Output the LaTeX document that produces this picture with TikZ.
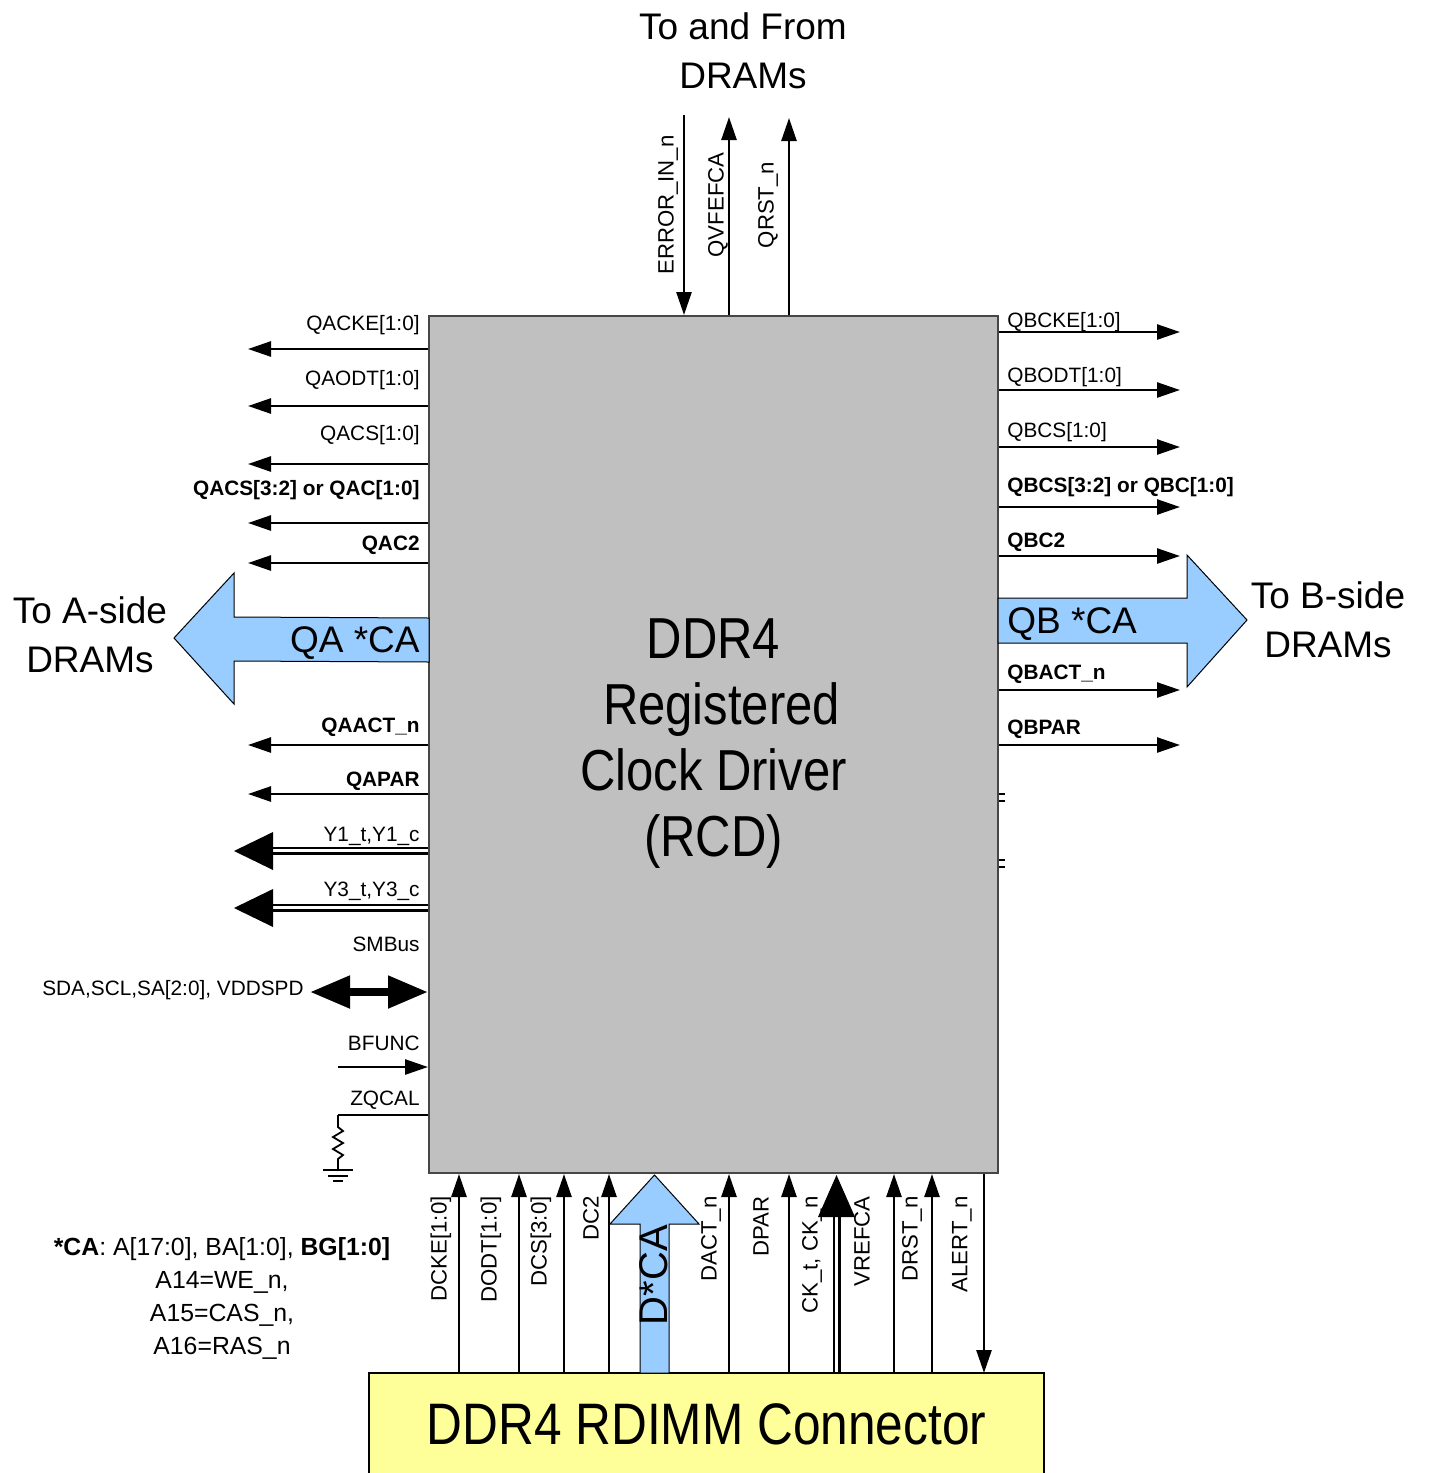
\documentclass[tikz,border=0pt]{standalone}
\usepackage{fontspec}
\usepackage{graphicx}
\setmainfont{Liberation Sans}
\usetikzlibrary{arrows.meta,positioning}
\definecolor{rcdgray}{RGB}{192,192,192}
\definecolor{rcdedge}{RGB}{70,70,70}
\definecolor{cablue}{RGB}{153,204,255}
\definecolor{dimmyellow}{RGB}{255,255,153}
\newcommand{\tallsz}[1]{\scalebox{1}[1.18]{#1}}

\begin{document}
\begin{tikzpicture}[
    x=0.5pt, y=-0.5pt,
    sig/.style={line width=1.3pt, -{Triangle[length=11.5pt,width=7.5pt]}},
    plain/.style={line width=1.3pt},
    sigtxt/.style={font=\fontsize{10.4}{12}\selectfont, inner sep=0pt},
    sigbold/.style={font=\fontsize{10.4}{12}\selectfont\bfseries, inner sep=0pt},
    vtxt/.style={font=\fontsize{11.1}{13}\selectfont, inner sep=0pt, rotate=90},
    bigarrow/.style={fill=cablue, draw=black, line width=0.5pt},
    bigtxt/.style={font=\fontsize{18.5}{24.5}\selectfont, align=center, inner sep=0pt}
]
    \useasboundingbox (0,0) rectangle (1429,1473);

    \node[fill=rcdgray, draw=rcdedge, line width=1pt, minimum width=284.5pt, minimum height=428.5pt, inner sep=0pt] (rcd) at (713.5,744.5)
        {\fontsize{24.5}{28}\selectfont\tallsz{\begin{tabular}{@{}c@{}}DDR4\\\hspace*{8pt}Registered\\Clock Driver\\(RCD)\end{tabular}}};
    \node[fill=dimmyellow, draw=black, line width=0.8pt, minimum width=337.5pt, minimum height=51pt, inner sep=0pt] (dimm) at (706.5,1424)
        {\fontsize{24.8}{28}\selectfont\tallsz{DDR4 RDIMM Connector}};

    % top
    \node[bigtxt] (todram) at (743,51) {To and From\\DRAMs};
    \coordinate (errin) at (684,115);
    \coordinate (qvref) at (729,117);
    \coordinate (qrst) at (789,118);
    \draw[sig] (errin) -- (errin |- rcd.north);
    \draw[sig] (qvref |- rcd.north) -- (qvref);
    \draw[sig] (qrst |- rcd.north) -- (qrst);
    \node[vtxt] (lerrin) at (668,205) {ERROR\_IN\_n};
    \node[vtxt] (lqvref) at (718,205) {QVFEFCA};
    \node[vtxt] (lqrst) at (768,205) {QRST\_n};

    % A side
    \node[bigtxt] (toa) at (90,635) {To A-side\\DRAMs};
    \coordinate (qacke) at (248,349);
    \coordinate (qaodt) at (248,406);
    \coordinate (qacs) at (248,464);
    \coordinate (qacsh) at (248,523);
    \coordinate (qac2) at (248,563);
    \coordinate (qaact) at (248,745);
    \coordinate (qapar) at (248,794);
    \draw[sig] (rcd.west |- qacke) -- (qacke);
    \draw[sig] (rcd.west |- qaodt) -- (qaodt);
    \draw[sig] (rcd.west |- qacs) -- (qacs);
    \draw[sig] (rcd.west |- qacsh) -- (qacsh);
    \draw[sig] (rcd.west |- qac2) -- (qac2);
    \draw[sig] (rcd.west |- qaact) -- (qaact);
    \draw[sig] (rcd.west |- qapar) -- (qapar);
    \node[sigtxt, anchor=base east] at (420,330) {QACKE[1:0]};
    \node[sigtxt, anchor=base east] at (420,385) {QAODT[1:0]};
    \node[sigtxt, anchor=base east] at (420,440) {QACS[1:0]};
    \node[sigbold, anchor=base east] at (420,495) {QACS[3:2] or QAC[1:0]};
    \node[sigbold, anchor=base east] at (420,550) {QAC2};
    \node[sigbold, anchor=base east] at (420,732) {QAACT\_n};
    \node[sigbold, anchor=base east] at (420,786) {QAPAR};
    \draw[bigarrow] (429,618) -- (234,617) -- (234,573) -- (174,638) -- (234,704) -- (234,661) -- (429,662) -- cycle;
    \node[bigtxt, anchor=base east] (qaca) at (420,652) {QA *CA};

    \coordinate (y1tip) at (234,851);
    \coordinate (y3tip) at (234,908);
    \draw[plain] (rcd.west |- 0,848) -- (273,848);
    \draw[plain] (rcd.west |- 0,853.5) -- (273,853.5);
    \fill (y1tip) -- ++(39,-19) -- ++(0,38) -- cycle;
    \draw[plain] (rcd.west |- 0,905) -- (273,905);
    \draw[plain] (rcd.west |- 0,910.5) -- (273,910.5);
    \fill (y3tip) -- ++(39,-19) -- ++(0,38) -- cycle;
    \node[sigtxt, anchor=base east] at (420,841) {Y1\_t,Y1\_c};
    \node[sigtxt, anchor=base east] at (420,896) {Y3\_t,Y3\_c};

    \node[sigtxt, anchor=base east] at (420,951) {SMBus};
    \node[sigtxt, anchor=base east] (lsda) at (304,995) {SDA,SCL,SA[2:0], VDDSPD};
    \coordinate (smb) at (310,992);
    \draw[line width=4pt, {Triangle[length=20pt,width=15.5pt]}-{Triangle[length=20pt,width=15.5pt]}] (smb) -- (rcd.west |- smb);

    \coordinate (bfunc) at (338,1067);
    \draw[sig] (bfunc) -- (rcd.west |- bfunc);
    \node[sigtxt, anchor=base east] at (420,1050) {BFUNC};

    \coordinate (zq) at (338,1115);
    \draw[plain] (rcd.west |- zq) -- (zq);
    \draw[line width=0.9pt] (zq) -- (338,1127) -- (343,1131) -- (333,1137) -- (343,1143) -- (333,1149) -- (343,1155) -- (338,1159) -- (338,1170);
    \draw[line width=0.6pt] (323,1170) -- (353,1170) (328,1176) -- (348,1176) (333,1181) -- (343,1181);
    \node[sigtxt, anchor=base east] at (420,1105) {ZQCAL};

    % B side
    \node[bigtxt] (tob) at (1328,620) {To B-side\\DRAMs};
    \coordinate (qbcke) at (1180,332);
    \coordinate (qbodt) at (1180,390);
    \coordinate (qbcs) at (1180,447);
    \coordinate (qbcsh) at (1180,507);
    \coordinate (qbc2) at (1180,556);
    \coordinate (qbact) at (1180,690);
    \coordinate (qbpar) at (1180,745);
    \draw[sig] (rcd.east |- qbcke) -- (qbcke);
    \draw[sig] (rcd.east |- qbodt) -- (qbodt);
    \draw[sig] (rcd.east |- qbcs) -- (qbcs);
    \draw[sig] (rcd.east |- qbcsh) -- (qbcsh);
    \draw[sig] (rcd.east |- qbc2) -- (qbc2);
    \draw[sig] (rcd.east |- qbact) -- (qbact);
    \draw[sig] (rcd.east |- qbpar) -- (qbpar);
    \node[sigtxt, anchor=base west] at (1007,327) {QBCKE[1:0]};
    \node[sigtxt, anchor=base west] at (1007,382) {QBODT[1:0]};
    \node[sigtxt, anchor=base west] at (1007,437) {QBCS[1:0]};
    \node[sigbold, anchor=base west] at (1007,492) {QBCS[3:2] or QBC[1:0]};
    \node[sigbold, anchor=base west] at (1007,547) {QBC2};
    \node[sigbold, anchor=base west] at (1007,679) {QBACT\_n};
    \node[sigbold, anchor=base west] at (1007,734) {QBPAR};
    \draw[bigarrow] (998,598) -- (1187,598) -- (1187,555) -- (1247,620) -- (1187,687) -- (1187,643) -- (998,643) -- cycle;
    \node[bigtxt, anchor=base west] (qbca) at (1007,633) {QB *CA};
    \draw[plain] (rcd.east |- 0,794) -- ++(6,0) (rcd.east |- 0,801) -- ++(6,0);
    \draw[plain] (rcd.east |- 0,860) -- ++(6,0) (rcd.east |- 0,867) -- ++(6,0);

    % bottom
    \coordinate (dcke) at (459,1373);
    \coordinate (dodt) at (519,1373);
    \coordinate (dcs) at (564,1373);
    \coordinate (dc2) at (609,1373);
    \coordinate (dact) at (729,1373);
    \coordinate (dpar) at (789,1373);
    \coordinate (vref) at (894,1373);
    \coordinate (drst) at (932,1373);
    \coordinate (alert) at (984,1373);
    \draw[sig] (dcke) -- (dcke |- rcd.south);
    \draw[sig] (dodt) -- (dodt |- rcd.south);
    \draw[sig] (dcs) -- (dcs |- rcd.south);
    \draw[sig] (dc2) -- (dc2 |- rcd.south);
    \draw[sig] (dact) -- (dact |- rcd.south);
    \draw[sig] (dpar) -- (dpar |- rcd.south);
    \draw[sig] (vref) -- (vref |- rcd.south);
    \draw[sig] (drst) -- (drst |- rcd.south);
    \draw[sig] (alert |- rcd.south) -- (alert);
    \draw[bigarrow] (640,1373) -- (640,1224) -- (610,1224) -- (654.5,1175) -- (699,1224) -- (669,1224) -- (669,1373) -- cycle;
    \node[vtxt, font=\fontsize{20}{24}\selectfont] (dca) at (654,1275) {D*CA};
    \coordinate (cktip) at (836.5,1175);
    \draw[plain] (834,1373) -- (834,1217);
    \draw[plain] (839.5,1373) -- (839.5,1217);
    \fill (cktip) -- ++(-18.5,42) -- ++(37,0) -- cycle;
    \node[vtxt, anchor=east] at (441,1196) {DCKE[1:0]};
    \node[vtxt, anchor=east] at (491,1196) {DODT[1:0]};
    \node[vtxt, anchor=east] at (541,1196) {DCS[3:0]};
    \node[vtxt, anchor=east] at (591,1196) {DC2};
    \node[vtxt, anchor=east] at (711,1196) {DACT\_n};
    \node[vtxt, anchor=east] at (761,1196) {DPAR};
    \node[vtxt, anchor=east] at (812,1196) {CK\_t, CK\_n};
    \node[vtxt, anchor=east] at (862,1196) {VREFCA};
    \node[vtxt, anchor=east] at (912,1196) {DRST\_n};
    \node[vtxt, anchor=east] at (962,1196) {ALERT\_n};

    \node[font=\fontsize{12.4}{16.5}\selectfont, align=center, inner sep=0pt] (canote) at (222,1298)
        {\textbf{*CA}: A[17:0], BA[1:0], \textbf{BG[1:0]}\\A14=WE\_n,\\A15=CAS\_n,\\A16=RAS\_n};
\end{tikzpicture}
\end{document}
